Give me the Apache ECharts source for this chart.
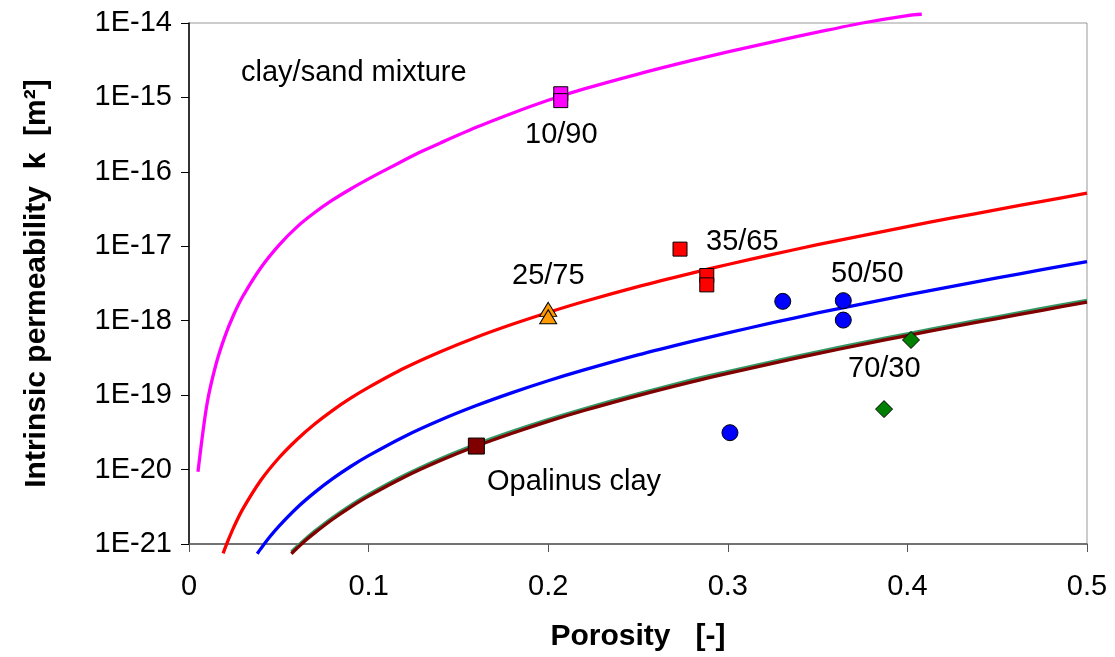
<!DOCTYPE html>
<html>
<head>
<meta charset="utf-8">
<script src="https://cdn.jsdelivr.net/npm/echarts@6/dist/echarts.min.js"></script>
<style>
  html, body { margin: 0; padding: 0; background: #fff; }
  #chart { width: 1115px; height: 657px; }
</style>
</head>
<body>
<div id="chart"></div>
<script>
// ---- Data ----
const xTicks = [0, 0.1, 0.2, 0.3, 0.4, 0.5];
const yMinExp = -21, yMaxExp = -14;   // tick labels 1E-21 ... 1E-14

// clay/sand mixture 10/90 curve (magenta)
const porosityMagenta = [0.005, 0.01, 0.015, 0.02, 0.025, 0.03, 0.04, 0.05, 0.06, 0.07, 0.08, 0.09, 0.10, 0.11, 0.12, 0.13, 0.14, 0.16, 0.18, 0.20, 0.22, 0.25, 0.28, 0.30, 0.325, 0.35, 0.375, 0.40, 0.408];
const kMagenta = [9.35e-21, 7.56e-20, 2.58e-19, 6.17e-19, 1.22e-18, 2.13e-18, 5.15e-18, 1.03e-17, 1.81e-17, 2.84e-17, 4.19e-17, 5.89e-17, 8.05e-17, 1.08e-16, 1.44e-16, 1.90e-16, 2.45e-16, 3.97e-16, 6.14e-16, 9.16e-16, 1.30e-15, 2.06e-15, 3.14e-15, 4.08e-15, 5.58e-15, 7.52e-15, 1.00e-14, 1.26e-14, 1.31e-14];

// 25/75 - 35/65 curve (red)
const porosityRed = [0.019, 0.022, 0.025, 0.03, 0.04, 0.05, 0.06, 0.07, 0.08, 0.09, 0.10, 0.12, 0.14, 0.16, 0.18, 0.20, 0.22, 0.25, 0.28, 0.30, 0.325, 0.35, 0.375, 0.40, 0.425, 0.45, 0.475, 0.50];
const kRed = [7.5e-22, 1.15e-21, 1.70e-21, 2.96e-21, 7.18e-21, 1.43e-20, 2.52e-20, 4.09e-20, 6.25e-20, 9.10e-20, 1.27e-19, 2.31e-19, 3.83e-19, 6.00e-19, 8.95e-19, 1.29e-18, 1.81e-18, 2.87e-18, 4.37e-18, 5.69e-18, 7.78e-18, 1.05e-17, 1.39e-17, 1.84e-17, 2.40e-17, 3.11e-17, 4.02e-17, 5.16e-17];

// 50/50 curve (blue)
const porosityBlue = [0.038, 0.04, 0.045, 0.05, 0.06, 0.07, 0.08, 0.09, 0.10, 0.12, 0.14, 0.16, 0.18, 0.20, 0.22, 0.25, 0.28, 0.30, 0.325, 0.35, 0.375, 0.40, 0.425, 0.45, 0.475, 0.50];
const kBlue = [7.4e-22, 8.67e-22, 1.25e-21, 1.73e-21, 3.05e-21, 4.94e-21, 7.55e-21, 1.10e-20, 1.54e-20, 2.79e-20, 4.63e-20, 7.24e-20, 1.08e-19, 1.56e-19, 2.18e-19, 3.47e-19, 5.28e-19, 6.87e-19, 9.40e-19, 1.27e-18, 1.68e-18, 2.22e-18, 2.90e-18, 3.76e-18, 4.85e-18, 6.24e-18];

// 70/30 curve (green) and Opalinus clay curve (dark red)
const porosityLow = [0.057, 0.06, 0.065, 0.07, 0.08, 0.09, 0.10, 0.12, 0.14, 0.16, 0.18, 0.20, 0.22, 0.25, 0.28, 0.30, 0.325, 0.35, 0.375, 0.40, 0.425, 0.45, 0.475, 0.50];
const kGreen = [7.83e-22, 9.19e-22, 1.18e-21, 1.49e-21, 2.27e-21, 3.31e-21, 4.64e-21, 8.39e-21, 1.40e-20, 2.19e-20, 3.26e-20, 4.70e-20, 6.57e-20, 1.04e-19, 1.60e-19, 2.07e-19, 2.83e-19, 3.82e-19, 5.07e-19, 6.68e-19, 8.73e-19, 1.13e-18, 1.46e-18, 1.88e-18];
const kDarkRed = [7.41e-22, 8.69e-22, 1.12e-21, 1.41e-21, 2.15e-21, 3.13e-21, 4.39e-21, 7.94e-21, 1.32e-20, 2.07e-20, 3.08e-20, 4.45e-20, 6.22e-20, 9.88e-20, 1.51e-19, 1.96e-19, 2.68e-19, 3.61e-19, 4.80e-19, 6.32e-19, 8.26e-19, 1.07e-18, 1.38e-18, 1.78e-18];

// measured samples
const porosity10_90 = [0.207, 0.207];
const k10_90 = [1.12e-15, 9.06e-16];
const porosity25_75 = [0.200, 0.200];
const k25_75 = [1.42e-18, 1.13e-18];
const porosity35_65 = [0.2734, 0.2883, 0.2883];
const k35_65 = [9.16e-18, 4.05e-18, 3.03e-18];
const porosity50_50 = [0.3306, 0.3643, 0.3643, 0.3012];
const k50_50 = [1.82e-18, 1.86e-18, 1.02e-18, 3.13e-20];
const porosity70_30 = [0.402, 0.387];
const k70_30 = [5.51e-19, 6.49e-20];
const porosityOpalinus = [0.160];
const kOpalinus = [2.07e-20];

const annotations = [
  { text: 'clay/sand mixture', x: 241, y: 73 },
  { text: '10/90', x: 525, y: 135 },
  { text: '35/65', x: 706, y: 242 },
  { text: '25/75', x: 512, y: 276 },
  { text: '50/50', x: 831, y: 274 },
  { text: '70/30', x: 848, y: 369 },
  { text: 'Opalinus clay', x: 487, y: 482 }
];

// ECharts' log scale loses values this small to rounding, so the axis works in
// units of 1E-21 m² and the tick labels are written back in m².
const UNIT = Math.pow(10, yMinExp);
function pairs(xs, ys) { return xs.map((x, i) => [x, ys[i] / UNIT]); }

const FONT = '"Liberation Sans", Arial, sans-serif';

function curve(name, xs, ys, color) {
  return {
    name: name, type: 'line', data: pairs(xs, ys),
    showSymbol: false, smooth: 0.3, clip: false,
    lineStyle: { color: color, width: 3.3 }, z: 2,
    emphasis: { disabled: true }
  };
}
function samples(name, xs, ys, symbol, size, color) {
  return {
    name: name, type: 'scatter', data: pairs(xs, ys),
    symbol: symbol, symbolSize: size, clip: false,
    itemStyle: { color: color, borderColor: '#000', borderWidth: 1, opacity: 1 },
    z: 5, emphasis: { disabled: true }
  };
}

const chart = echarts.init(document.getElementById('chart'), null, { renderer: 'canvas' });
chart.setOption({
  animation: false,
  backgroundColor: '#fff',
  grid: { left: 189, right: 28, top: 23, bottom: 109, show: true, borderColor: '#999', borderWidth: 1, backgroundColor: 'transparent' },
  xAxis: {
    type: 'value', min: xTicks[0], max: xTicks[xTicks.length - 1], interval: 0.1,
    axisLine: { show: true, onZero: false, lineStyle: { color: '#555', width: 1.5 } },
    axisTick: { show: true, length: 8, lineStyle: { color: '#555', width: 1 } },
    axisLabel: { color: '#000', fontSize: 29, fontFamily: FONT, margin: 28 },
    splitLine: { show: false },
    name: 'Porosity   [-]', nameLocation: 'middle', nameGap: 78,
    nameTextStyle: { color: '#000', fontSize: 30, fontWeight: 'bold', fontFamily: FONT }
  },
  yAxis: {
    type: 'log', logBase: 10,
    min: Math.pow(10, yMinExp) / UNIT, max: Math.pow(10, yMaxExp) / UNIT,
    splitNumber: yMaxExp - yMinExp,
    axisLine: { show: true, onZero: false, lineStyle: { color: '#000', width: 1.5 } },
    axisTick: { show: true, length: 8, lineStyle: { color: '#000', width: 1 } },
    axisLabel: {
      color: '#000', fontSize: 29, fontFamily: FONT, margin: 17,
      formatter: v => '1E' + (Math.round(Math.log10(v)) + yMinExp)
    },
    splitLine: { show: false },
    name: 'Intrinsic permeability  k  [m²]', nameLocation: 'middle', nameGap: 137,
    nameTextStyle: { color: '#000', fontSize: 30, fontWeight: 'bold', fontFamily: FONT }
  },
  series: [
    curve('10/90 curve', porosityMagenta, kMagenta, '#FF00FF'),
    curve('25/75-35/65 curve', porosityRed, kRed, '#FF0000'),
    curve('50/50 curve', porosityBlue, kBlue, '#0000FF'),
    curve('70/30 curve', porosityLow, kGreen, '#339966'),
    curve('Opalinus curve', porosityLow, kDarkRed, '#800000'),
    samples('10/90', porosity10_90, k10_90, 'rect', 14, '#FF00FF'),
    samples('25/75', porosity25_75, k25_75, 'triangle', [17, 14], '#FF9900'),
    samples('35/65', porosity35_65, k35_65, 'rect', 14, '#FF0000'),
    samples('50/50', porosity50_50, k50_50, 'circle', 16, '#0000FF'),
    samples('70/30', porosity70_30, k70_30, 'diamond', [17, 17], '#008000'),
    samples('Opalinus clay', porosityOpalinus, kOpalinus, 'rect', 16, '#800000')
  ],
  graphic: annotations.map(a => ({
    type: 'text', x: a.x, y: a.y, z: 10,
    style: { text: a.text, fill: '#000', font: '29px ' + FONT, textAlign: 'left', textVerticalAlign: 'middle' }
  }))
});
</script>
</body>
</html>
